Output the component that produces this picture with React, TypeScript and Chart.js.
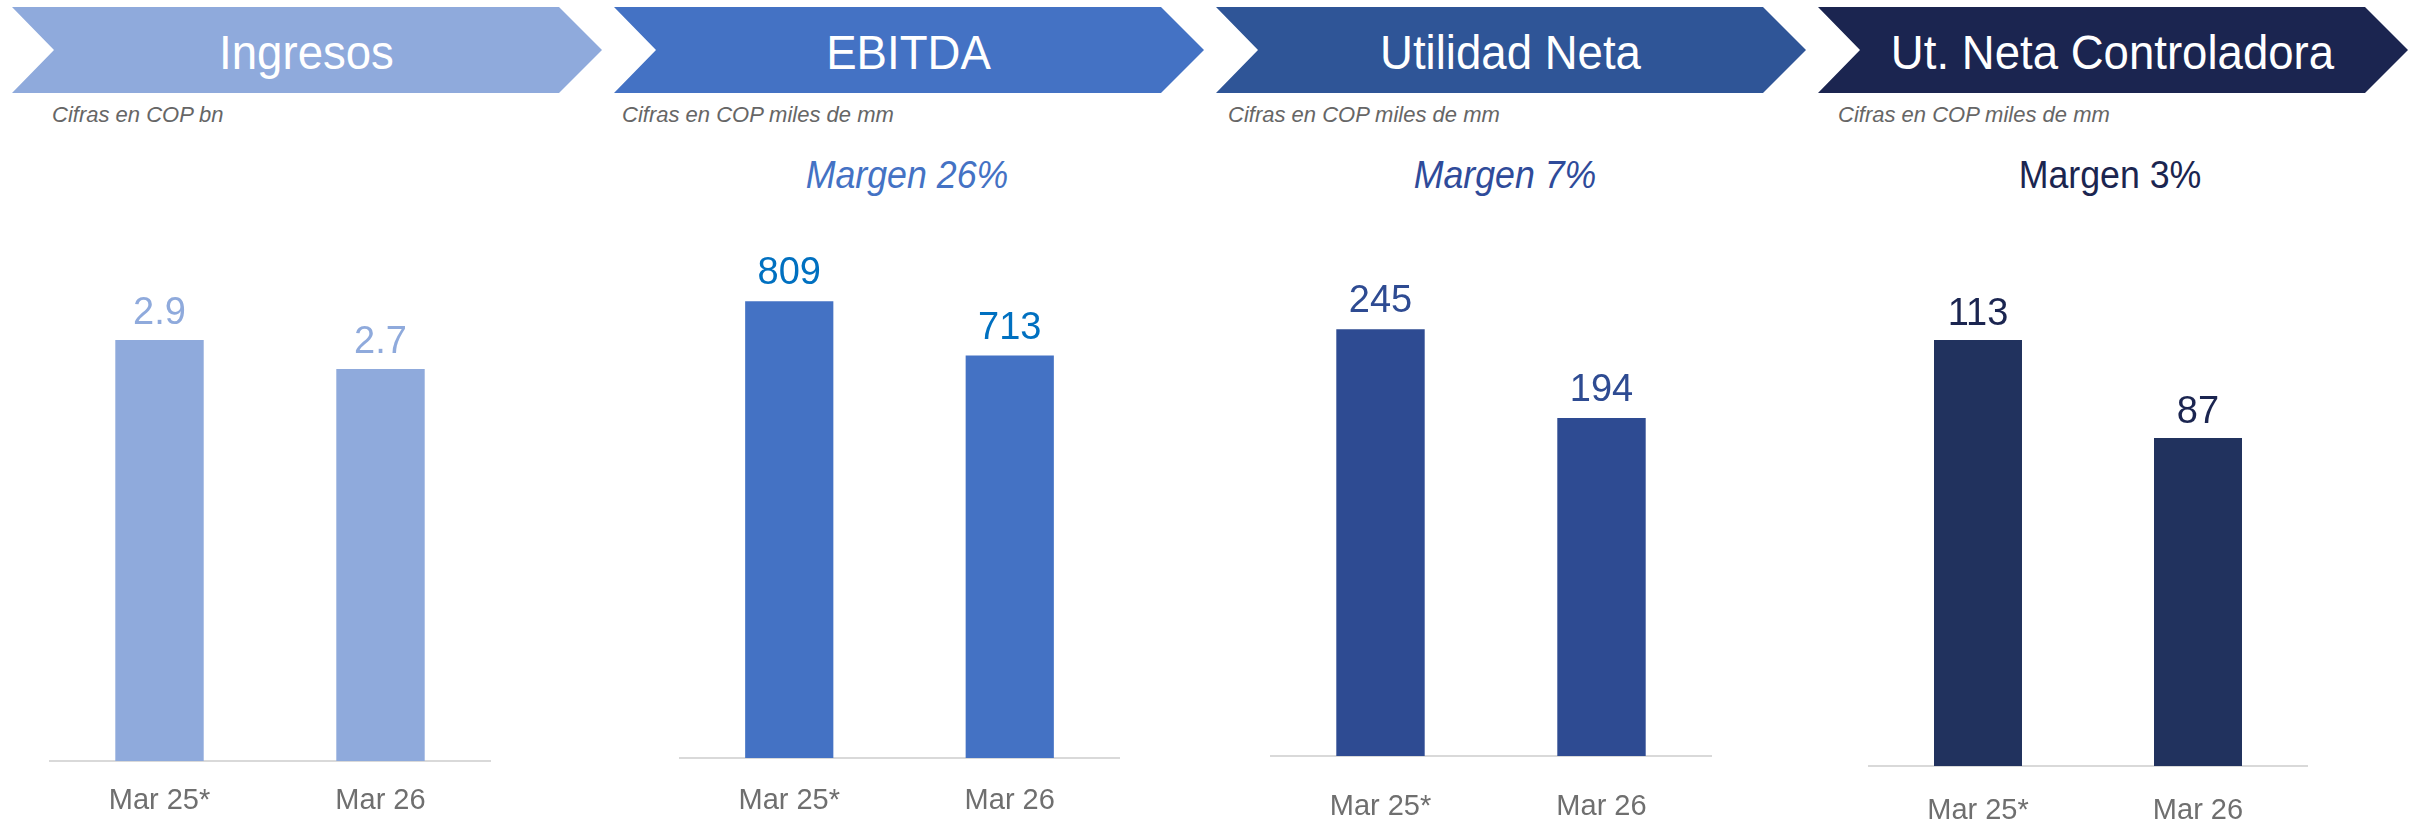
import React, { useEffect, useRef } from "react";
import { Chart, registerables } from "chart.js";

Chart.register(...registerables);

// ---- Data ----
const categories = ["Mar 25*", "Mar 26"];
const ingresos = [2.9, 2.7];
const ebitda = [809, 713];
const utilidadNeta = [245, 194];
const utNetaControladora = [113, 87];

const titles = ["Ingresos", "EBITDA", "Utilidad Neta", "Ut. Neta Controladora"];
const subtitles = [
  "Cifras en COP bn",
  "Cifras en COP miles de mm",
  "Cifras en COP miles de mm",
  "Cifras en COP miles de mm",
];
const margins = ["", "Margen 26%", "Margen 7%", "Margen 3%"];
const decimals = [1, 0, 0, 0];

const FONT = '"Liberation Sans", Arial, sans-serif';

type Panel = {
  values: number[];
  arrowLeft: number;
  arrowColor: string;
  barColor: string;
  labelColor: string;
  marginColor: string;
  marginItalic: boolean;
  marginCenter: number;
  subLeft: number;
  axisLeft: number;
  axisWidth: number;
  base: number;
  yMax: number;
  tickPad: number;
  labelGap: number;
};

const CHART_TOP = 130;
const AXIS_H = 70;

const panels: Panel[] = [
  {
    values: ingresos,
    arrowLeft: 12,
    arrowColor: "#8FAADC",
    barColor: "#8FAADC",
    labelColor: "#8FAADC",
    marginColor: "#8FAADC",
    marginItalic: true,
    marginCenter: 306,
    subLeft: 52,
    axisLeft: 49,
    axisWidth: 442,
    base: 761,
    yMax: 4.346,
    tickPad: 23,
    labelGap: 16,
  },
  {
    values: ebitda,
    arrowLeft: 614,
    arrowColor: "#4472C4",
    barColor: "#4472C4",
    labelColor: "#0070C0",
    marginColor: "#4472C4",
    marginItalic: true,
    marginCenter: 907,
    subLeft: 622,
    axisLeft: 679,
    axisWidth: 441,
    base: 758,
    yMax: 1112.5,
    tickPad: 26,
    labelGap: 17,
  },
  {
    values: utilidadNeta,
    arrowLeft: 1216,
    arrowColor: "#2F5597",
    barColor: "#2E4B92",
    labelColor: "#2E4B92",
    marginColor: "#2F4B9A",
    marginItalic: true,
    marginCenter: 1505,
    subLeft: 1228,
    axisLeft: 1270,
    axisWidth: 442,
    base: 756,
    yMax: 359.3,
    tickPad: 34,
    labelGap: 17,
  },
  {
    values: utNetaControladora,
    arrowLeft: 1818,
    arrowColor: "#1B2550",
    barColor: "#21325E",
    labelColor: "#1B2550",
    marginColor: "#1B2550",
    marginItalic: false,
    marginCenter: 2110,
    subLeft: 1838,
    axisLeft: 1868,
    axisWidth: 440,
    base: 766,
    yMax: 168.7,
    tickPad: 28,
    labelGap: 15,
  },
];

const ARROW_W = 590;
const ARROW_H = 86;
const NOTCH = 42;
const BODY = 547;

function BarPanel({ p, idx }: { p: Panel; idx: number }) {
  const ref = useRef<HTMLCanvasElement | null>(null);
  useEffect(() => {
    if (!ref.current) return;
    const labelPlugin = {
      id: "valueLabels" + idx,
      afterDatasetsDraw(chart: any) {
        const ctx = chart.ctx;
        const meta = chart.getDatasetMeta(0);
        ctx.save();
        ctx.font = `38px ${FONT}`;
        ctx.fillStyle = p.labelColor;
        ctx.textAlign = "center";
        ctx.textBaseline = "alphabetic";
        meta.data.forEach((bar: any, i: number) => {
          ctx.fillText(p.values[i].toFixed(decimals[idx]), bar.x, bar.y - p.labelGap);
        });
        ctx.restore();
      },
    };
    const chart = new Chart(ref.current, {
      type: "bar",
      data: {
        labels: categories,
        datasets: [
          {
            data: p.values,
            backgroundColor: p.barColor,
            borderWidth: 0,
            barPercentage: 0.4,
            categoryPercentage: 1,
          },
        ],
      },
      options: {
        responsive: false,
        animation: false,
        devicePixelRatio: 1,
        layout: { padding: 0 },
        plugins: { legend: { display: false }, tooltip: { enabled: false } },
        scales: {
          x: {
            grid: { display: false, drawTicks: false },
            border: { display: true, color: "#D9D9D9", width: 2 },
            ticks: {
              color: "#6F6F6F",
              font: { family: FONT, size: 29 },
              padding: p.tickPad,
            },
            afterFit: (scale: any) => {
              scale.height = AXIS_H;
            },
          },
          y: { display: false, min: 0, max: p.yMax },
        },
      },
      plugins: [labelPlugin],
    });
    return () => chart.destroy();
  }, []);
  const h = p.base - CHART_TOP + AXIS_H;
  return (
    <canvas
      ref={ref}
      width={p.axisWidth}
      height={h}
      style={{ position: "absolute", left: p.axisLeft, top: CHART_TOP, width: p.axisWidth, height: h }}
    />
  );
}

export default function App() {
  return (
    <div
      style={{
        position: "fixed",
        left: 0,
        top: 0,
        width: 2417,
        height: 821,
        background: "#FFFFFF",
        overflow: "hidden",
        fontFamily: FONT,
      }}
    >
      {panels.map((p, i) => (
        <React.Fragment key={i}>
          <div
            style={{
              position: "absolute",
              left: p.arrowLeft,
              top: 7,
              width: ARROW_W,
              height: ARROW_H,
              background: p.arrowColor,
              clipPath: `polygon(0px 0px, ${BODY}px 0px, ${ARROW_W}px ${ARROW_H / 2}px, ${BODY}px ${ARROW_H}px, 0px ${ARROW_H}px, ${NOTCH}px ${ARROW_H / 2}px)`,
            }}
          />
          <div
            style={{
              position: "absolute",
              left: p.arrowLeft + NOTCH,
              width: BODY - NOTCH,
              top: 28,
              fontSize: 49,
              lineHeight: "49px",
              color: "#FFFFFF",
              textAlign: "center",
              whiteSpace: "nowrap",
              transform: "scaleX(0.93)",
            }}
          >
            {titles[i]}
          </div>
          <div
            style={{
              position: "absolute",
              left: p.subLeft,
              top: 104,
              fontSize: 22,
              lineHeight: "22px",
              fontStyle: "italic",
              color: "#666666",
              whiteSpace: "nowrap",
            }}
          >
            {subtitles[i]}
          </div>
          {margins[i] ? (
            <div
              style={{
                position: "absolute",
                left: p.marginCenter - 200,
                width: 400,
                top: 156,
                fontSize: 38,
                lineHeight: "38px",
                fontStyle: p.marginItalic ? "italic" : "normal",
                color: p.marginColor,
                textAlign: "center",
                whiteSpace: "nowrap",
                transform: "scaleX(0.94)",
              }}
            >
              {margins[i]}
            </div>
          ) : null}
          <BarPanel p={p} idx={i} />
        </React.Fragment>
      ))}
    </div>
  );
}
